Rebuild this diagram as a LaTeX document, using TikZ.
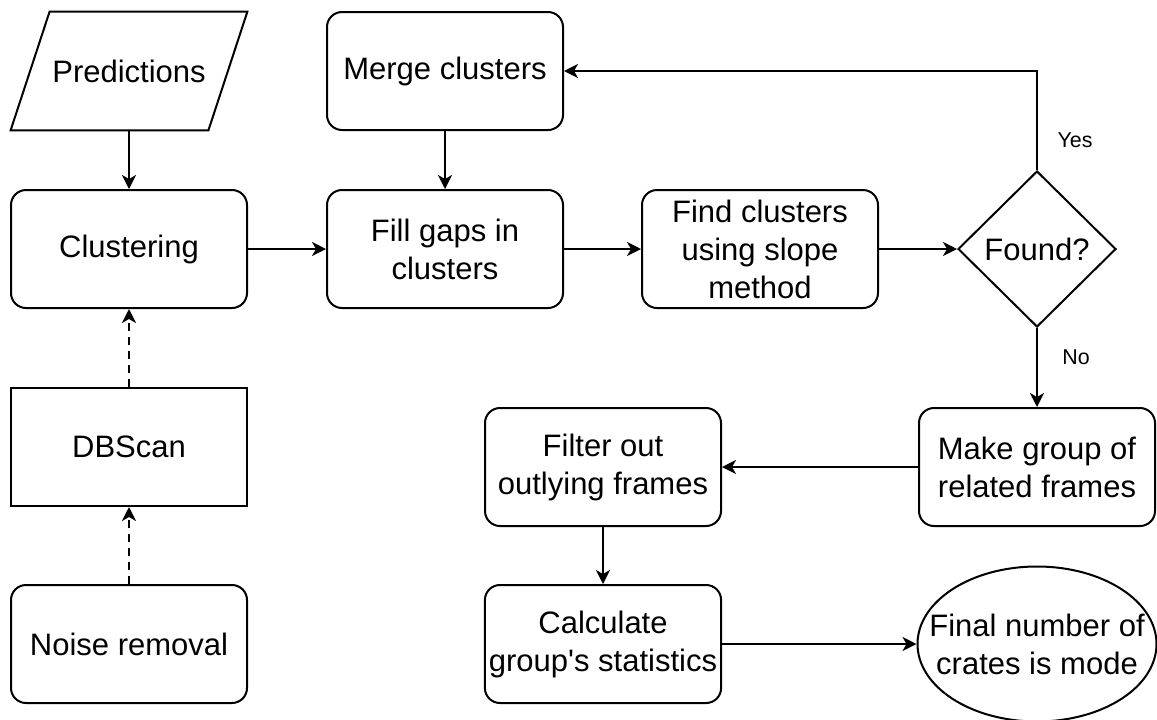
\documentclass[tikz,border=0pt]{standalone}
\usepackage{fontspec}
\setmainfont{Liberation Sans}
\usepackage{tikz}
\usetikzlibrary{arrows.meta, shapes.geometric}
\definecolor{flowline}{HTML}{000000}
\newcommand{\flowfont}{\fontsize{15.5}{19}\selectfont}
\tikzset{
  proc/.style={rectangle, rounded corners=7.5pt, draw=flowline, line width=1pt,
               minimum width=118pt, minimum height=59pt, inner sep=2pt,
               align=center, font=\flowfont},
  sharpbox/.style={proc, sharp corners},
  io/.style={rectangle, minimum width=118pt, minimum height=59pt, inner sep=2pt,
             font=\flowfont},
  ioframe/.style={draw=flowline, line width=1pt, line join=miter},
  dec/.style={diamond, draw=flowline, line width=1pt, minimum width=79pt,
              minimum height=78pt, inner sep=0pt, font=\flowfont},
  term/.style={ellipse, draw=flowline, line width=1pt, minimum width=119.5pt,
               minimum height=77.5pt, inner xsep=-12pt, inner ysep=0pt,
               align=center, font=\flowfont},
  flow/.style={-{Stealth[length=7pt, width=7pt, inset=2pt]}, line width=1pt, flowline},
  dflow/.style={flow, dash pattern=on 4pt off 3pt},
  lbl/.style={font=\fontsize{10.7}{13}\selectfont},
}

\begin{document}
\begin{tikzpicture}[x=0.5pt, y=-0.5pt]
  \useasboundingbox (0,0) rectangle (1157,719);
  % left column
  \node[io] (pred) at (129,71) {Predictions};
  \draw[ioframe] (pred.south west) -- ([xshift=19.5pt]pred.north west)
    -- (pred.north east) -- ([xshift=-19.5pt]pred.south east) -- cycle;
  \node[proc] (clus) at (129,249) {Clustering};
  \node[sharpbox] (dbs) at (129,447) {DBScan};
  \node[proc] (noise) at (129,644) {Noise removal};
  \draw[flow] (pred)--(clus);
  \draw[dflow] (dbs)--(clus);
  \draw[dflow] (noise)--(dbs);
  % top row
  \node[proc] (merge) at (445,71) {Merge clusters};
  \node[proc] (fill) at (445,249) {Fill gaps in\\clusters};
  \node[proc] (slope) at (760,249) {Find clusters\\using slope\\method};
  \node[dec] (found) at (1037,249) {Found?};
  \draw[flow] (clus)--(fill);
  \draw[flow] (merge)--(fill);
  \draw[flow] (fill)--(slope);
  \draw[flow] (slope)--(found);
  \draw[flow] (found.north) |- (merge.east);
  \node[lbl] (yes) at (1075,140) {Yes};
  \node[lbl] (no) at (1076,357) {No};
  % bottom right
  \node[proc] (group) at (1037,467) {Make group of\\related frames};
  \node[proc] (filt) at (603,467) {Filter out\\outlying frames};
  \node[proc] (stats) at (603,644) {Calculate\\group\textquotesingle s statistics};
  \node[term] (final) at (1037,644) {Final number of\\crates is mode};
  \draw[flow] (found)--(group);
  \draw[flow] (group)--(filt);
  \draw[flow] (filt)--(stats);
  \draw[flow] (stats)--(final);
\end{tikzpicture}
\end{document}
